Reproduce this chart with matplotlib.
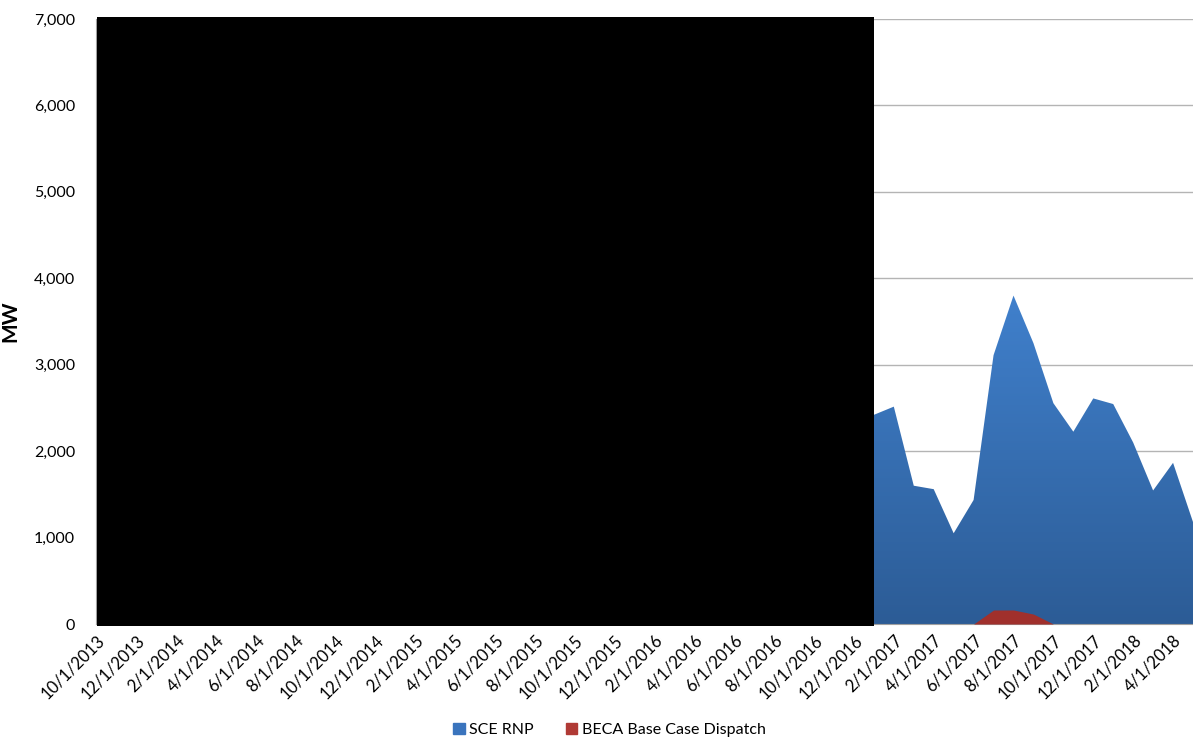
import matplotlib.pyplot as plt
import matplotlib as mpl
import numpy as np
import pandas as pd
from matplotlib.patches import Rectangle, Patch
from matplotlib.colors import LinearSegmentedColormap

mpl.rcParams['font.family'] = ['Lato', 'DejaVu Sans']

# monthly data, 10/1/2013 .. 5/1/2018
dates = pd.date_range('2013-10-01', periods=56, freq='MS')
sce_rnp = [2500, 2400, 2600, 2300, 1700, 1500, 1200, 1500, 3000, 3700,
           3300, 2600, 2300, 2500, 2450, 2000, 1550, 1500, 1100, 1400,
           3100, 3800, 3200, 2500, 2200, 2550, 2500, 2050, 1600, 1550,
           1050, 1450, 3050, 3750, 3250, 2550, 2250, 2600, 2450, 2420,
           2515, 1600, 1560, 1050, 1435, 3110, 3800, 3250, 2555, 2225,
           2610, 2545, 2100, 1545, 1865, 1180]
beca = [0, 0, 0, 0, 0, 0, 0, 0, 0, 0,
        0, 0, 0, 0, 0, 0, 0, 0, 0, 0,
        0, 0, 0, 0, 0, 0, 0, 0, 0, 0,
        0, 0, 0, 0, 0, 0, 0, 0, 0, 0,
        0, 0, 0, 0, 0, 162, 162, 115, 0, 0,
        0, 0, 0, 0, 0, 0]
labels = [f'{d.month}/{d.day}/{d.year}' for d in dates]

x = np.arange(len(dates))

fig = plt.figure(figsize=(11.93, 7.42), dpi=100)
ax = fig.add_axes([96 / 1193, 1 - 624 / 742, 1 - 96 / 1193, 605 / 742])

# blue area with vertical gradient
poly = ax.fill_between(x, 0, sce_rnp, color='none', lw=0, zorder=2)
cmap = LinearSegmentedColormap.from_list('blu', ['#2c5c96', '#4080cc'])
grad = np.linspace(0, 1, 256).reshape(-1, 1)
im = ax.imshow(grad, cmap=cmap, aspect='auto', origin='lower',
               extent=[0, len(x) - 1, 0, max(sce_rnp)], zorder=2)
path = poly.get_paths()[0]
im.set_clip_path(path, transform=ax.transData)

ax.fill_between(x, 0, beca, color='#a0302c', lw=0, zorder=3)

ax.set_xlim(0, len(x) - 1)
ax.set_ylim(0, 7000)
ax.set_yticks(range(0, 7001, 1000))
ax.set_yticklabels([f'{v:,}' for v in range(0, 7001, 1000)], fontsize=11.5)
ax.set_xticks(x[::2])
ax.set_xticklabels(labels[::2], rotation=45, ha='right', va='top',
                   rotation_mode='anchor', fontsize=12)
ax.tick_params(length=0)
ax.tick_params(axis='y', pad=15)
ax.tick_params(axis='x', pad=6)
ax.grid(axis='y', color='#b4b4b4', lw=1, zorder=1)
ax.set_axisbelow(True)
for s in ['top', 'right']:
    ax.spines[s].set_visible(False)
ax.spines['left'].set_color('#a0a0a0')
ax.spines['bottom'].set_color('#a0a0a0')
ax.set_ylabel('MW', fontsize=15, fontweight='bold', labelpad=10)

# redaction block
ax.add_patch(Rectangle((1 / 1097, -2 / 605), 777 / 1097, 609 / 605,
                       transform=ax.transAxes, facecolor='black',
                       edgecolor='none', clip_on=False, zorder=10))

handles = [Patch(color='#3a74bd', label='SCE RNP'),
           Patch(color='#b03a35', label='BECA Base Case Dispatch')]
fig.legend(handles=handles, loc='center', bbox_to_anchor=(0.511, 0.016),
           ncol=2, frameon=False, fontsize=11.5, handlelength=0.7,
           handleheight=0.7, handletextpad=0.3, columnspacing=2.0)

fig.savefig('out.png', dpi=100)
